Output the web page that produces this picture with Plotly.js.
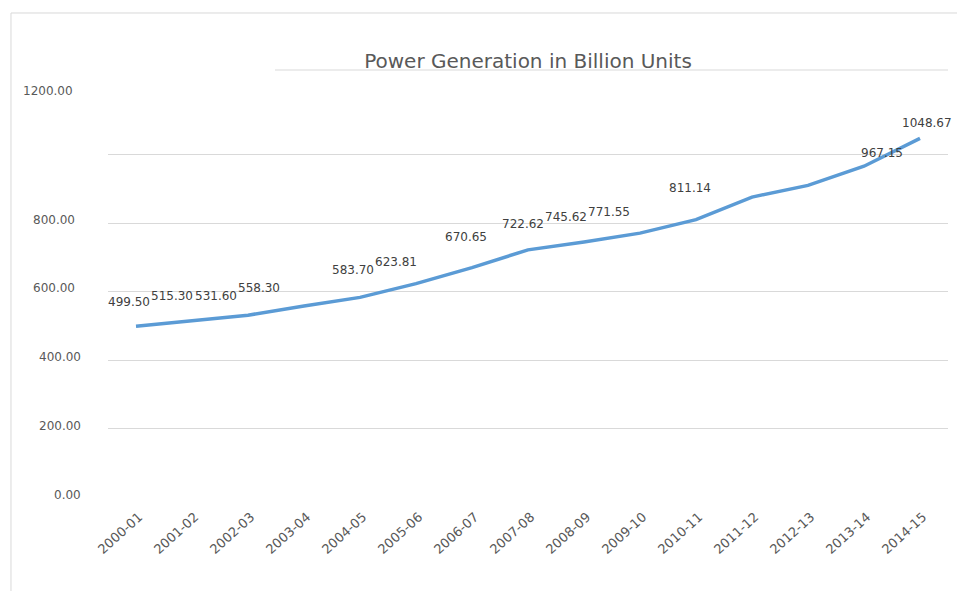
<!DOCTYPE html>
<html>
<head>
<meta charset="utf-8">
<script src="https://cdn.plot.ly/plotly-3.0.1.min.js"></script>
<style>html,body{margin:0;padding:0;background:#fff;}#chart{width:957px;height:591px;}</style>
</head>
<body>
<div id="chart"></div>
<script>
// ---- data ----
const categories = ["2000-01","2001-02","2002-03","2003-04","2004-05","2005-06","2006-07","2007-08","2008-09","2009-10","2010-11","2011-12","2012-13","2013-14","2014-15"];
const generation = [499.50, 515.30, 531.60, 558.30, 583.70, 623.81, 670.65, 722.62, 745.62, 771.55, 811.14, 877, 911, 967.15, 1048.67];
const dataLabels = ["499.50","515.30","531.60","558.30","583.70","623.81","670.65","722.62","745.62","771.55","811.14","","","967.15","1048.67"];
const yTickVals = [0, 200, 400, 600, 800, 1200];
const yTickText = ["0.00","200.00","400.00","600.00","800.00","1200.00"];
const gridVals = [0, 200, 400, 600, 800, 1000];

// ---- label placement (pixel offsets, style only) ----
const labelShift = [[-7,24],[-20,25],[-32,19],[-45,18],[-7,27],[-20,22],[-6,31],[-5,26],[-18,25],[-31,21],[-6,32],[0,0],[0,0],[18,13],[7,15]];
const yLabelRight = [-25,-25,-25,-31,-31,-33];
const yLabelShift = [2,3,3,4,3,-4];

const annotations = [];
dataLabels.forEach((t, i) => {
  if (!t) return;
  annotations.push({
    x: i, y: generation[i], xref: 'x', yref: 'y', text: t, showarrow: false,
    xanchor: 'center', yanchor: 'middle',
    xshift: labelShift[i][0], yshift: labelShift[i][1],
    font: {family: 'DejaVu Sans, sans-serif', size: 12, color: '#404040'}
  });
});
yTickVals.forEach((v, i) => {
  annotations.push({
    x: 0, y: v, xref: 'paper', yref: 'y', text: yTickText[i], showarrow: false,
    xanchor: 'right', yanchor: 'middle',
    xshift: yLabelRight[i], yshift: yLabelShift[i],
    font: {family: 'DejaVu Sans, sans-serif', size: 12, color: '#595959'}
  });
});

const trace = {
  x: categories.map((c, i) => i),
  y: generation,
  type: 'scatter',
  mode: 'lines',
  line: {color: '#5b9bd5', width: 3.5, shape: 'linear'},
  hoverinfo: 'skip'
};

const layout = {
  width: 957, height: 591,
  margin: {l: 108, r: 9, t: 70, b: 94},
  paper_bgcolor: '#ffffff', plot_bgcolor: '#ffffff',
  showlegend: false,
  title: {
    text: 'Power Generation in Billion Units',
    x: 528/957, xref: 'container', xanchor: 'center',
    y: 1 - 61/591, yref: 'container', yanchor: 'middle',
    font: {family: 'DejaVu Sans, sans-serif', size: 20, color: '#595959'}
  },
  xaxis: {
    range: [-0.5, 14.5],
    tickvals: categories.map((c, i) => i),
    ticktext: categories,
    tickangle: -42,
    ticklabelstandoff: 9,
    ticklabelshift: 3,
    showgrid: false, zeroline: false, showline: false, ticks: '',
    fixedrange: true,
    tickfont: {family: 'DejaVu Sans, sans-serif', size: 13, color: '#595959'}
  },
  yaxis: {
    range: [0, 1248.5],
    tickvals: gridVals,
    showticklabels: false,
    showgrid: true, gridcolor: '#d9d9d9', gridwidth: 1,
    zeroline: false, showline: false, ticks: '',
    fixedrange: true
  },
  shapes: [
    {type: 'line', xref: 'paper', yref: 'paper', x0: -0.1155, x1: -0.1155, y0: 1.1335, y1: -0.23, line: {color: '#d9d9d9', width: 1}},
    {type: 'line', xref: 'paper', yref: 'paper', x0: -0.1155, x1: 1.02, y0: 1.1335, y1: 1.1335, line: {color: '#d9d9d9', width: 1}},
    {type: 'line', xref: 'paper', yref: 'paper', x0: (275-108)/840, x1: 1, y0: 1, y1: 1, line: {color: '#d9d9d9', width: 1}}
  ],
  annotations: annotations
};

Plotly.newPlot('chart', [trace], layout, {displayModeBar: false, staticPlot: true});
</script>
</body>
</html>
